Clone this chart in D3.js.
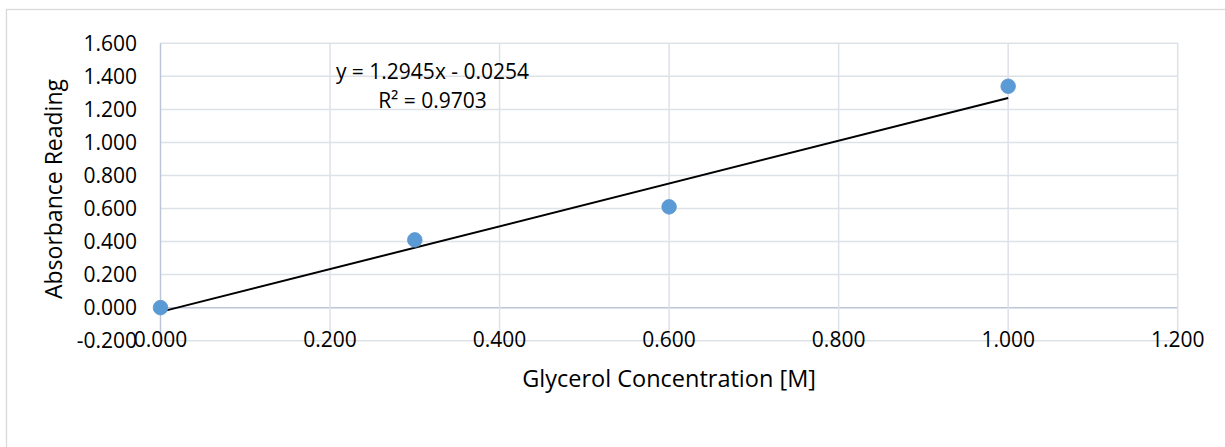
<!DOCTYPE html>
<html><head><meta charset="utf-8">
<script src="https://cdn.jsdelivr.net/npm/d3@7"></script>
<style>html,body{margin:0;padding:0;background:#fff;overflow:hidden}</style>
</head><body>
<svg id="c" width="1225" height="447"></svg>
<script>
const concentration = [0.0, 0.3, 0.6, 1.0];
const absorbance = [0.000, 0.41, 0.61, 1.34];
const xTicks = [0, 0.2, 0.4, 0.6, 0.8, 1.0, 1.2];
const yTicks = [-0.2, 0, 0.2, 0.4, 0.6, 0.8, 1.0, 1.2, 1.4, 1.6];
const trendCoef = [1.2945, -0.0254]; // slope, intercept
const trendRange = [0, 1.0];
const equationLines = ["y = 1.2945x - 0.0254", "R² = 0.9703"];
const xTitle = "Glycerol Concentration [M]";
const yTitle = "Absorbance Reading";

const FONT = "'Open Sans', 'Noto Sans', sans-serif";
const svg = d3.select("#c");
svg.append("rect").attr("x",6.5).attr("y",9.5).attr("width",1240).attr("height",460)
  .attr("fill","#fff").attr("stroke","#d9d9d9").attr("stroke-width",1.3);

const x = d3.scaleLinear().domain([0,1.2]).range([160.5,1177.7]);
const y = d3.scaleLinear().domain([-0.2,1.6]).range([340.7,43.3]);

const g = svg.append("g");
// gridlines
g.selectAll(".hg").data(yTicks).join("line")
  .attr("x1",x(0)).attr("x2",x(1.2)).attr("y1",d=>y(d)).attr("y2",d=>y(d))
  .attr("stroke",d=>d===0?"#bcc6d6":"#dde1e8").attr("stroke-width",1.5);
g.selectAll(".vg").data(xTicks).join("line")
  .attr("x1",d=>x(d)).attr("x2",d=>x(d)).attr("y1",y(-0.2)).attr("y2",y(1.6))
  .attr("stroke",d=>d===0?"#bcc6d6":"#dde1e8").attr("stroke-width",1.5);

// y tick labels
g.selectAll(".yt").data(yTicks).join("text")
  .attr("x",137).attr("y",d=>y(d)).attr("dy","0.35em").attr("text-anchor","end")
  .attr("font-family",FONT).attr("font-size",21).attr("fill","#000")
  .text(d=>d3.format(".3f")(d).replace("−","-"));
// x tick labels
g.selectAll(".xt").data(xTicks).join("text")
  .attr("x",d=>x(d)).attr("y",346.5).attr("text-anchor","middle")
  .attr("font-family",FONT).attr("font-size",21).attr("fill","#000")
  .text(d=>d3.format(".3f")(d));

// trendline
const line = d3.line().x(d=>x(d)).y(d=>y(trendCoef[0]*d+trendCoef[1]));
g.append("path").datum(trendRange).attr("d",line).attr("fill","none")
  .attr("stroke","#000").attr("stroke-width",2);

// points
g.selectAll(".pt").data(concentration).join("circle")
  .attr("cx",d=>x(d)).attr("cy",(d,i)=>y(absorbance[i])).attr("r",7.3)
  .attr("fill","#5b9bd5").attr("stroke","#5a94cc").attr("stroke-width",0.8);

// equation
g.selectAll(".eq").data(equationLines).join("text")
  .attr("x",432.5).attr("y",(d,i)=>79+i*28.8).attr("text-anchor","middle")
  .attr("font-family",FONT).attr("font-size",21).attr("fill","#000").text(d=>d);

// axis titles
svg.append("text").attr("x",x(0.6)).attr("y",387).attr("text-anchor","middle")
  .attr("font-family",FONT).attr("font-size",23.5).attr("fill","#000").text(xTitle);
svg.append("text").attr("transform",`translate(62,${(y(-0.2)+y(1.6))/2 - 3}) rotate(-90)`)
  .attr("text-anchor","middle")
  .attr("font-family",FONT).attr("font-size",23).attr("fill","#000").text(yTitle);
</script>
</body></html>
